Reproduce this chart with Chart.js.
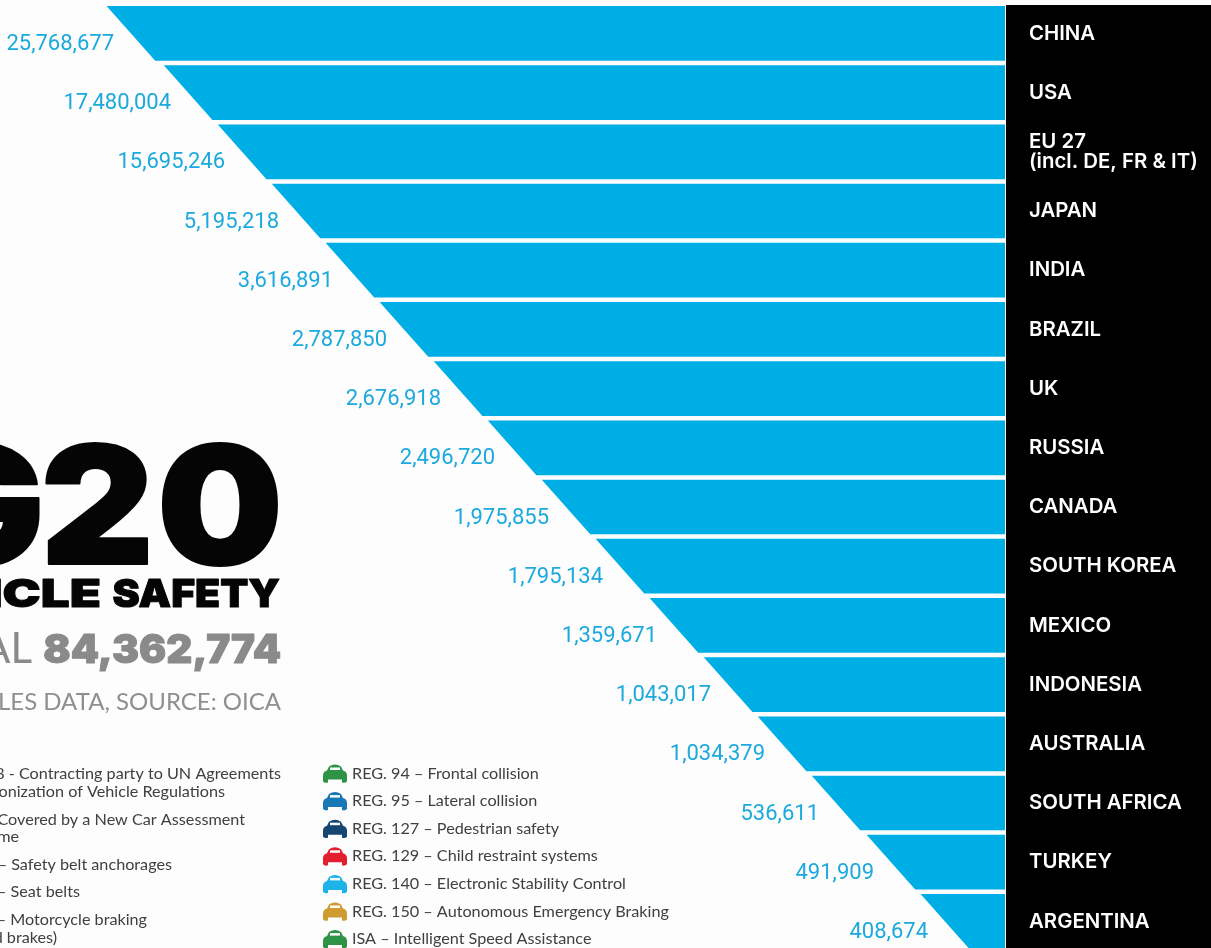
<!DOCTYPE html>
<html>
<head>
<meta charset="utf-8">
<title>G20 vehicle safety</title>
<script src="https://cdn.jsdelivr.net/npm/chart.js@4/dist/chart.umd.min.js"></script>
<style>
  html, body { margin: 0; padding: 0; background: #fdfdfd; overflow: hidden; }
  canvas { display: block; }
</style>
</head>
<body>
<canvas id="salesChart" width="1211" height="951"></canvas>
<script>
const countries = ['CHINA', 'USA', ['EU 27', '(incl. DE, FR & IT)'], 'JAPAN', 'INDIA', 'BRAZIL', 'UK', 'RUSSIA',
  'CANADA', 'SOUTH KOREA', 'MEXICO', 'INDONESIA', 'AUSTRALIA', 'SOUTH AFRICA', 'TURKEY', 'ARGENTINA'];
const sales = [25768677, 17480004, 15695246, 5195218, 3616891, 2787850, 2676918, 2496720,
  1975855, 1795134, 1359671, 1043017, 1034379, 536611, 491909, 408674];
// bars are a staircase in the original, not to scale with sales
const barLengths = [898, 841, 787, 733, 679, 625, 571, 517, 463, 409, 355, 301, 247, 193, 138, 84];
const legendRight = ['REG. 94 – Frontal collision', 'REG. 95 – Lateral collision', 'REG. 127 – Pedestrian safety',
  'REG. 129 – Child restraint systems', 'REG. 140 – Electronic Stability Control',
  'REG. 150 – Autonomous Emergency Braking', 'ISA – Intelligent Speed Assistance'];
const legendColors = ['#2e9345', '#1877b5', '#14466f', '#e11f2e', '#1cb4e8', '#cf9a30', '#2e9345'];

const BLUE = '#00aee6';
const PAPER = '#fdfdfd';

function text(ctx, str, x, y, font, color, align) {
  ctx.font = font;
  ctx.fillStyle = color;
  ctx.textAlign = align || 'right';
  ctx.textBaseline = 'alphabetic';
  ctx.fillText(str, x, y);
}

// the poster's display face is wider and heavier than anything installed
function heavyText(ctx, str, x, y, font, color, stretch, weight) {
  ctx.save();
  ctx.translate(x, y);
  ctx.scale(stretch, 1);
  ctx.font = font;
  ctx.textAlign = 'right';
  ctx.fillStyle = color;
  ctx.strokeStyle = color;
  ctx.lineWidth = weight;
  ctx.lineJoin = 'round';
  ctx.fillText(str, 0, 0);
  ctx.strokeText(str, 0, 0);
  ctx.restore();
}

function car(ctx, x, cy, color) {
  ctx.fillStyle = color;
  ctx.beginPath();
  ctx.moveTo(x + 4, cy - 3);
  ctx.lineTo(x + 6, cy - 7);
  ctx.quadraticCurveTo(x + 12, cy - 11, x + 18, cy - 7);
  ctx.lineTo(x + 20, cy - 3);
  ctx.quadraticCurveTo(x + 24, cy - 2, x + 24, cy + 2);
  ctx.lineTo(x + 24, cy + 8);
  ctx.quadraticCurveTo(x + 22, cy + 10, x + 19, cy + 9);
  ctx.lineTo(x + 19, cy + 6);
  ctx.lineTo(x + 5, cy + 6);
  ctx.lineTo(x + 5, cy + 9);
  ctx.quadraticCurveTo(x + 2, cy + 10, x, cy + 8);
  ctx.lineTo(x, cy + 2);
  ctx.quadraticCurveTo(x, cy - 2, x + 4, cy - 3);
  ctx.fill();
  ctx.fillStyle = PAPER;
  ctx.fillRect(x + 7, cy - 6, 10, 2.5);
}

// black panel behind the country names
const panel = {
  id: 'panel',
  beforeDraw(chart) {
    const ctx = chart.ctx;
    ctx.save();
    ctx.fillStyle = '#000';
    ctx.fillRect(chart.chartArea.right + 1, 5, chart.width, chart.height);
    ctx.restore();
  }
};

// cuts the slanted left end off every bar and writes the sales value beside it
const slant = {
  id: 'slant',
  afterDatasetsDraw(chart) {
    const ctx = chart.ctx;
    const bars = chart.getDatasetMeta(0).data;
    ctx.save();
    bars.forEach((bar, i) => {
      const top = bar.y - bar.height / 2;
      const bottom = bar.y + bar.height / 2;
      const skew = 48;
      ctx.fillStyle = PAPER;
      ctx.beginPath();
      ctx.moveTo(bar.x - 2, Math.floor(top) - 1);
      ctx.lineTo(bar.x, Math.floor(top) - 1);
      ctx.lineTo(bar.x, top);
      ctx.lineTo(bar.x + skew, bottom);
      ctx.lineTo(bar.x + skew, Math.ceil(bottom) + 1);
      ctx.lineTo(bar.x - 2, Math.ceil(bottom) + 1);
      ctx.fill();
      text(ctx, sales[i].toLocaleString('en-US'), bar.x + 7, bar.y + 16.5, '400 22px Roboto', '#1ba9de');
    });
    ctx.restore();
  }
};

// title block and legend
const notes = {
  id: 'notes',
  afterDraw(chart) {
    const ctx = chart.ctx;
    ctx.save();
    heavyText(ctx, 'G', 45, 564, '900 164px Inter', '#050505', 1.1, 2);
    heavyText(ctx, '2', 154, 564, '900 164px Inter', '#050505', 1.07, 2);
    heavyText(ctx, '0', 283, 564, '900 164px Inter', '#050505', 1.08, 2);
    heavyText(ctx, 'VEHICLE', 101, 607, '900 39px Inter', '#050505', 1.31, 1);
    heavyText(ctx, 'SAFETY', 280, 607, '900 39px Inter', '#050505', 1.05, 1);
    heavyText(ctx, '84,362,774', 281, 663, '900 40px Inter', '#8a8a8a', 1.01, 1);
    text(ctx, 'TOTAL', 32, 663, '400 42px Lato', '#8a8a8a');
    text(ctx, 'SALES DATA, SOURCE: OICA', 281, 710, '400 24px Lato', '#8f8f8f');

    const note = '400 16.2px Lato';
    const noteColor = '#404040';
    text(ctx, '1958 - Contracting party to UN Agreements', 281, 779, note, noteColor);
    text(ctx, 'on Harmonization of Vehicle Regulations', 225, 797, note, noteColor);
    text(ctx, 'NCAP - Covered by a New Car Assessment', 245, 825, note, noteColor);
    text(ctx, 'Programme', 19, 842, note, noteColor);
    text(ctx, 'REG. 14 – Safety belt anchorages', 172, 870, note, noteColor);
    text(ctx, 'REG. 16 – Seat belts', 80, 897, note, noteColor);
    text(ctx, 'REG. 78 – Motorcycle braking', 147, 925, note, noteColor);
    text(ctx, '(combined brakes)', 57, 943, note, noteColor);

    legendRight.forEach((label, i) => {
      const y = 778.5 + i * 27.6;
      car(ctx, 323, y - 5, legendColors[i]);
      text(ctx, label, 352, y, note, noteColor, 'left');
    });
    ctx.restore();
  }
};

new Chart(document.getElementById('salesChart'), {
  type: 'bar',
  data: {
    labels: countries,
    datasets: [{
      label: 'Sales',
      data: barLengths,
      backgroundColor: BLUE,
      barThickness: 54
    }]
  },
  options: {
    indexAxis: 'y',
    responsive: false,
    animation: false,
    layout: { padding: { top: 3.8, bottom: 0 } },
    plugins: { legend: { display: false }, tooltip: { enabled: false } },
    scales: {
      x: { display: false, reverse: true, min: 0, max: 1005 },
      y: {
        position: 'right',
        afterFit(scale) {
          scale.width = 206;
          scale.paddingTop = 0;
          scale.paddingBottom = 0;
        },
        grid: { display: false, drawTicks: false },
        border: { display: false },
        ticks: {
          color: '#fff',
          crossAlign: 'near',
          padding: 24,
          autoSkip: false,
          font: { family: 'Inter', size: 20.4, weight: '600', lineHeight: 1.02 }
        }
      }
    }
  },
  plugins: [panel, slant, notes]
});
</script>
</body>
</html>
